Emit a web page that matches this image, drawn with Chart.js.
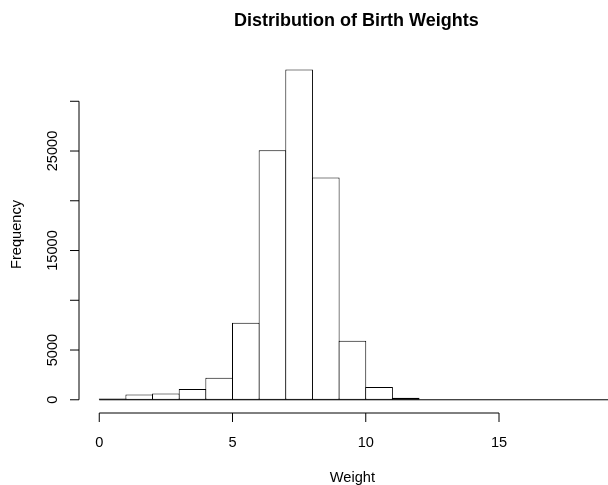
<!DOCTYPE html>
<html>
<head>
<meta charset="utf-8">
<script src="https://cdn.jsdelivr.net/npm/chart.js@4/dist/chart.umd.min.js"></script>
<style>
  html, body { margin: 0; padding: 0; background: #fff; }
  canvas { display: block; }
</style>
</head>
<body>
<canvas id="hist" width="608" height="485"></canvas>
<script>
// histogram bins (width 1), counts
const binStarts = [0, 1, 2, 3, 4, 5, 6, 7, 8, 9, 10, 11, 12, 13, 14, 15, 16, 17, 18, 19];
const counts = [130, 530, 630, 1075, 2210, 7750, 25070, 33200, 22350, 5930, 1275, 210, 0, 0, 0, 0, 0, 0, 0, 0];

const xTicks = [0, 5, 10, 15];
const yTicks = [0, 5000, 10000, 15000, 20000, 25000, 30000];
const yTickLabels = ['0', '5000', '', '15000', '', '25000', ''];

const title = 'Distribution of Birth Weights';
const xTitle = 'Weight';
const yTitle = 'Frequency';

const FONT = '"Liberation Sans", Arial, sans-serif';

// R-style detached axes, drawn from the chart's own scales
const rAxes = {
  id: 'rAxes',
  afterDraw(chart) {
    const { ctx, chartArea, scales: { x, y } } = chart;
    const tick = 9;
    ctx.save();
    ctx.strokeStyle = '#000';
    ctx.fillStyle = '#000';
    ctx.lineWidth = 1;

    // y axis
    const ax = chartArea.left;
    ctx.beginPath();
    ctx.moveTo(ax, y.getPixelForValue(yTicks[0]));
    ctx.lineTo(ax, y.getPixelForValue(yTicks[yTicks.length - 1]));
    yTicks.forEach(v => {
      const py = y.getPixelForValue(v);
      ctx.moveTo(ax, py);
      ctx.lineTo(ax - tick, py);
    });
    // x axis
    const ay = chartArea.bottom;
    ctx.moveTo(x.getPixelForValue(xTicks[0]), ay);
    ctx.lineTo(x.getPixelForValue(xTicks[xTicks.length - 1]), ay);
    xTicks.forEach(v => {
      const px = x.getPixelForValue(v);
      ctx.moveTo(px, ay);
      ctx.lineTo(px, ay + tick);
    });
    ctx.stroke();

    ctx.font = '14.6px ' + FONT;
    ctx.textAlign = 'center';
    ctx.textBaseline = 'alphabetic';
    xTicks.forEach(v => ctx.fillText(String(v), x.getPixelForValue(v), ay + 34));

    yTicks.forEach((v, i) => {
      if (!yTickLabels[i]) return;
      ctx.save();
      ctx.translate(ax - 22, y.getPixelForValue(v));
      ctx.rotate(-Math.PI / 2);
      ctx.fillText(yTickLabels[i], 0, 0);
      ctx.restore();
    });

    // axis titles
    ctx.fillText(xTitle, x.getPixelForValue(9.5), ay + 69);
    ctx.save();
    ctx.translate(20.5, (chartArea.top + chartArea.bottom) / 2);
    ctx.rotate(-Math.PI / 2);
    ctx.fillText(yTitle, 0, 0);
    ctx.restore();

    ctx.font = 'bold 18px ' + FONT;
    ctx.fillText(title, x.getPixelForValue(9.65), 26);
    ctx.restore();
  }
};

const ctx = document.getElementById('hist').getContext('2d');

new Chart(ctx, {
  data: {
    datasets: [{
      type: 'bar',
      data: binStarts.map((b, i) => ({ x: b + 0.5, y: counts[i] })),
      backgroundColor: '#fff',
      borderColor: '#000',
      borderWidth: 1,
      borderSkipped: false,
      inflateAmount: 0,
      // slightly wider than a bin so neighbours share one outline
      barPercentage: 1.0375,
      categoryPercentage: 1,
      order: 2,
    }, {
      type: 'line',
      data: [{ x: binStarts[0], y: 0 }, { x: binStarts[binStarts.length - 1] + 1, y: 0 }],
      borderColor: '#000',
      borderWidth: 1,
      pointRadius: 0,
      order: 1,
    }]
  },
  options: {
    responsive: false,
    animation: false,
    devicePixelRatio: 1,
    layout: { padding: { left: 79, right: 0, top: 56, bottom: 72 } },
    plugins: { legend: { display: false }, tooltip: { enabled: false }, title: { display: false } },
    scales: {
      x: {
        type: 'linear',
        display: false,
        offset: false,
        min: -0.76,
        max: 19.09,
        ticks: { stepSize: 5, includeBounds: false },
      },
      y: {
        type: 'linear',
        display: false,
        min: -1330,
        max: 34550,
        ticks: { includeBounds: false },
      }
    }
  },
  plugins: [rAxes]
});
</script>
</body>
</html>
